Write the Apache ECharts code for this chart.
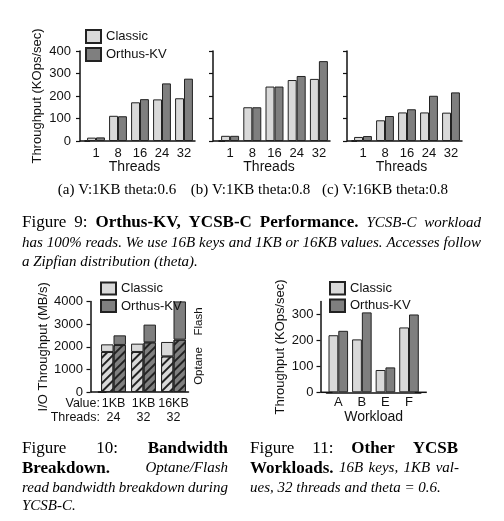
<!DOCTYPE html>
<html><head><meta charset="utf-8">
<script src="https://cdn.jsdelivr.net/npm/echarts@6/dist/echarts.min.js"></script>
<style>html,body{margin:0;padding:0;background:#fff}#c{width:504px;height:521px}</style>
</head><body><div id="c"></div>
<script>
// ---- data ----
const threadCats = ['1', '8', '16', '24', '32'];
const classicA = [15, 112, 172, 185, 190];
const orthusA  = [16, 110, 186, 256, 277];
const classicB = [23, 150, 242, 271, 276];
const orthusB  = [23, 150, 242, 289, 355];
const classicC = [18, 92, 127, 127, 126];
const orthusC  = [22, 111, 141, 201, 216];
const topTicks = [0, 100, 200, 300, 400];

const bwValueCats  = ['1KB', '1KB', '16KB'];
const bwThreadCats = ['24', '32', '32'];
const classicOptane = [1770, 1770, 1575];
const classicFlash  = [336, 367, 637];
const orthusOptane  = [2080, 2195, 2314];
const orthusFlash   = [424, 783, 1690];
const bwTicks = [0, 1000, 2000, 3000, 4000];

const workloadCats = ['A', 'B', 'E', 'F'];
const classicWl = [220, 204, 86, 250];
const orthusWl  = [237, 308, 96, 300];
const wlTicks = [0, 100, 200, 300];

// ---- styles ----
const SANS = '"Liberation Sans", Arial, sans-serif';
const C_LIGHT = '#d9d9d9', C_DARK = '#7f7f7f', C_EDGE = '#222', INK = '#111';

const chart = echarts.init(document.getElementById('c'), null, {renderer: 'canvas'});

const grids = [
  {left: 85, top: 51, width: 110, height: 90},
  {left: 219, top: 51, width: 111, height: 90},
  {left: 352, top: 51, width: 110, height: 90},
  {left: 98.5, top: 301.5, width: 90, height: 90.5},
  {left: 326.5, top: 301.5, width: 94.3, height: 90.8}
];

function yAx(gi, max, interval, offset, ticks, showLabels, margin, name, nameGap) {
  return {
    type: 'value', gridIndex: gi, min: 0, max: max, interval: interval, offset: offset,
    axisLine: {show: true, lineStyle: {color: INK, width: 1.5}},
    axisTick: {show: true, length: 4, customValues: ticks, lineStyle: {color: INK, width: 1.2}},
    splitLine: {show: false},
    axisLabel: {show: showLabels, customValues: ticks, margin: margin, fontFamily: SANS, fontSize: 13, color: INK,
      formatter: v => String(v)},
    name: name || '', nameLocation: 'middle', nameGap: nameGap || 0,
    nameTextStyle: {fontFamily: SANS, fontSize: 13, color: INK}
  };
}
// ext: how far the baseline continues left to meet the (offset) y axis
function xAx(gi, data, name, nameGap, margin, padRight, ext, endExt) {
  return {
    type: 'category', gridIndex: gi, data: data,
    axisLine: {show: true, lineStyle: {color: INK, width: 1.5},
      symbol: ['rect', endExt ? 'rect' : 'none'], symbolSize: [1.5, 2 * ext]},
    axisTick: {show: false},
    axisLabel: {margin: margin, fontFamily: SANS, fontSize: 13, color: INK, interval: 0},
    name: name, nameLocation: 'middle', nameGap: nameGap,
    nameTextStyle: {fontFamily: SANS, fontSize: 14, color: INK, padding: [0, padRight || 0, 0, 0]}
  };
}

const bwAxis = xAx(3, bwValueCats.map((v, i) => v + '\n' + bwThreadCats[i]), '', 0, 4.5, 0, 8, false);
bwAxis.axisLabel = {margin: 4.5, fontFamily: SANS, fontSize: 12.5, color: INK, lineHeight: 14, interval: 0};

const xAxes = [
  xAx(0, threadCats, 'Threads', 18, 5.5, 11, 5, false),
  xAx(1, threadCats, 'Threads', 18, 5.5, 11, 6, false),
  xAx(2, threadCats, 'Threads', 18, 5.5, 11, 5, false),
  bwAxis,
  xAx(4, workloadCats, 'Workload', 14.5, 4, 0, 6, true)
];
const yAxes = [
  yAx(0, 400, 100, 5, topTicks, true, 9, 'Throughput (KOps/sec)', 36),
  yAx(1, 400, 100, 6, topTicks, false, 9),
  yAx(2, 400, 100, 5, topTicks, false, 9),
  yAx(3, 4000, 1000, 8, bwTicks, true, 7.5, 'I/O Throughput (MB/s)', 40),
  yAx(4, 350, 50, 6, wlTicks, true, 7, 'Throughput (KOps/sec)', 34)
];

function bar(name, gi, data, color, gapPct, extra) {
  return Object.assign({
    type: 'bar', name: name, xAxisIndex: gi, yAxisIndex: gi, data: data,
    barGap: '0%', barCategoryGap: gapPct, silent: true,
    itemStyle: {color: color, borderColor: C_EDGE, borderWidth: 1}
  }, extra || {});
}
const hatch = () => ({symbol: 'rect', symbolSize: 1, color: '#222', backgroundColor: null,
  dashArrayX: [1, 0], dashArrayY: [1.2, 3.2], rotation: -Math.PI / 4});

const series = [
  bar('Classic', 0, classicA, C_LIGHT, '19%'),
  bar('Orthus-KV', 0, orthusA, C_DARK, '19%'),
  bar('Classic', 1, classicB, C_LIGHT, '19%'),
  bar('Orthus-KV', 1, orthusB, C_DARK, '19%'),
  bar('Classic', 2, classicC, C_LIGHT, '19%'),
  bar('Orthus-KV', 2, orthusC, C_DARK, '19%'),
  bar('Classic Optane', 3, classicOptane, C_LIGHT, '17%', {stack: 'classic', itemStyle: {color: C_LIGHT, borderColor: C_EDGE, borderWidth: 1, decal: hatch()}}),
  bar('Classic Flash', 3, classicFlash, C_LIGHT, '17%', {stack: 'classic'}),
  bar('Orthus-KV Optane', 3, orthusOptane, C_DARK, '17%', {stack: 'orthus', itemStyle: {color: C_DARK, borderColor: C_EDGE, borderWidth: 1, decal: hatch()}}),
  bar('Orthus-KV Flash', 3, orthusFlash, C_DARK, '17%', {stack: 'orthus'}),
  bar('Classic', 4, classicWl, C_LIGHT, '17%'),
  bar('Orthus-KV', 4, orthusWl, C_DARK, '17%')
];

function legend(left, top, itemH, gap) {
  return {data: ['Classic', 'Orthus-KV'], left: left, top: top, orient: 'vertical', icon: 'rect',
    itemWidth: 15, itemHeight: itemH, itemGap: gap, padding: 0, selectedMode: false,
    textStyle: {fontFamily: SANS, fontSize: 13, color: INK, lineHeight: itemH}};
}

// ---- caption text layout (justified like the paper) ----
const SIZE = {n: 17, b: 17, i: 15};
const mctx = document.createElement('canvas').getContext('2d');
function fontStr(st) {
  return (st === 'i' ? 'italic ' : '') + (st === 'b' ? 'bold ' : '') + SIZE[st] + 'px "Liberation Serif"';
}
function textLine(runs, x0, x1, y, justify) {
  const words = [];
  runs.forEach(([st, t]) => t.split(' ').filter(Boolean).forEach(w => words.push({st: st, w: w})));
  words.forEach(o => { mctx.font = fontStr(o.st); o.width = mctx.measureText(o.w).width; });
  const total = words.reduce((s, o) => s + o.width, 0);
  mctx.font = fontStr('i');
  const sp = mctx.measureText(' ').width;
  const gap = (justify && words.length > 1) ? (x1 - x0 - total) / (words.length - 1) : sp;
  let x = x0;
  return words.map(o => {
    const el = {type: 'text', x: x, y: y, silent: true,
      style: {text: o.w, font: fontStr(o.st), fill: '#000', align: 'left', verticalAlign: 'middle'}};
    x += o.width + gap;
    return el;
  });
}
let graphics = [];
graphics = graphics.concat(
  textLine([['n', 'Figure 9:'], ['b', 'Orthus-KV, YCSB-C Performance.'], ['i', 'YCSB-C workload']], 22, 481, 222.7, true),
  textLine([['i', 'has 100% reads. We use 16B keys and 1KB or 16KB values. Accesses follow']], 22, 481, 243, true),
  textLine([['i', 'a Zipfian distribution (theta).']], 22, 481, 262, false),
  textLine([['n', 'Figure 10:'], ['b', 'Bandwidth']], 22, 228, 448.5, true),
  textLine([['b', 'Breakdown.'], ['i', 'Optane/Flash']], 22, 228, 468.3, true),
  textLine([['i', 'read bandwidth breakdown during']], 22, 228, 488, true),
  textLine([['i', 'YCSB-C.']], 22, 228, 506.5, false),
  textLine([['n', 'Figure 11:'], ['b', 'Other YCSB']], 250, 458, 448.5, true),
  textLine([['b', 'Workloads.'], ['i', '16B keys, 1KB val-']], 250, 459, 468.3, true),
  textLine([['i', 'ues, 32 threads and theta = 0.6.']], 250, 459, 488, false)
);
const subCaps = [['(a) V:1KB theta:0.6', 117], ['(b) V:1KB theta:0.8', 250.5], ['(c) V:16KB theta:0.8', 385]];
subCaps.forEach(([t, cx]) => graphics.push({type: 'text', x: cx, y: 190.5, silent: true,
  style: {text: t, font: '15px "Liberation Serif"', fill: '#000', align: 'center', verticalAlign: 'middle'}}));
graphics.push(
  {type: 'text', x: 100, y: 403.5, silent: true, style: {text: 'Value:', font: '12.5px "Liberation Sans"', fill: INK, align: 'right', verticalAlign: 'middle'}},
  {type: 'text', x: 100, y: 417.5, silent: true, style: {text: 'Threads:', font: '12.5px "Liberation Sans"', fill: INK, align: 'right', verticalAlign: 'middle'}},
  {type: 'text', x: 199, y: 321.5, rotation: Math.PI / 2, silent: true, style: {text: 'Flash', font: '11.5px "Liberation Sans"', fill: INK, align: 'center', verticalAlign: 'middle'}},
  {type: 'text', x: 199, y: 366, rotation: Math.PI / 2, silent: true, style: {text: 'Optane', font: '11.5px "Liberation Sans"', fill: INK, align: 'center', verticalAlign: 'middle'}}
);

chart.setOption({
  backgroundColor: '#fff',
  animation: false,
  grid: grids,
  xAxis: xAxes,
  yAxis: yAxes,
  legend: [legend(85, 29, 13, 3), legend(100, 281.5, 12, 3.5), legend(329, 281, 12.5, 3)],
  series: series,
  graphic: graphics
});
</script></body></html>
